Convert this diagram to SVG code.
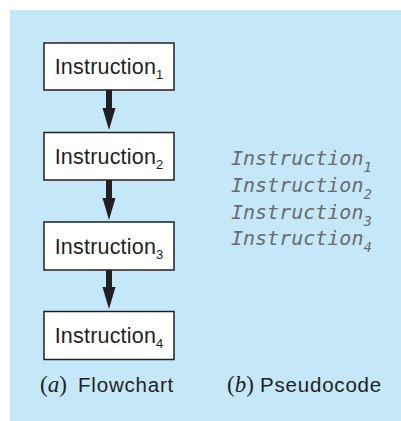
<svg xmlns="http://www.w3.org/2000/svg" width="401" height="421" viewBox="0 0 401 421">
  <style>
    .box { fill: #ffffff; stroke: #231f20; stroke-width: 1.5; }
    .lbl { font-family: "Liberation Sans", Arial, sans-serif; font-size: 21.5px; fill: #231f20; letter-spacing: 0.2px; }
    .sub { font-size: 13px; letter-spacing: 0; }
    .code { font-family: "DejaVu Sans Mono", "Liberation Mono", monospace; font-style: italic; font-size: 20px; fill: #6a6b6e; }
    .csub { font-size: 14px; }
    .cap { font-family: "Liberation Sans", Arial, sans-serif; font-size: 20.5px; fill: #231f20; letter-spacing: 0.8px; }
    .capm { font-family: "Liberation Serif", "Times New Roman", serif; font-size: 23px; letter-spacing: 0; }
    .conn { fill: #231f20; stroke: none; }
  </style>
  <rect x="10" y="10" width="391" height="411" fill="#c5e8f8"/>

  <g id="connectors">
    <path class="conn" d="M106,90 H112 V108 H115.5 L109,130 L102.5,108 H106 Z"/>
    <path class="conn" d="M106,180 H112 V198 H115.5 L109,220 L102.5,198 H106 Z"/>
    <path class="conn" d="M106,270 H112 V287 H115.5 L109,309 L102.5,287 H106 Z"/>
  </g>

  <g id="instruction1">
    <rect class="box" x="44" y="43" width="130" height="47"/>
    <text class="lbl" x="109" y="74" text-anchor="middle">Instruction<tspan class="sub" dy="5">1</tspan></text>
  </g>
  <g id="instruction2">
    <rect class="box" x="44" y="132.5" width="130" height="47.5"/>
    <text class="lbl" x="109" y="164" text-anchor="middle">Instruction<tspan class="sub" dy="5">2</tspan></text>
  </g>
  <g id="instruction3">
    <rect class="box" x="44" y="222" width="130" height="48"/>
    <text class="lbl" x="109" y="254" text-anchor="middle">Instruction<tspan class="sub" dy="5">3</tspan></text>
  </g>
  <g id="instruction4">
    <rect class="box" x="44" y="311.5" width="130" height="48"/>
    <text class="lbl" x="109" y="343" text-anchor="middle">Instruction<tspan class="sub" dy="5">4</tspan></text>
  </g>

  <g id="pseudocode">
    <text class="code" x="231" y="165">Instruction<tspan class="csub" dy="7">1</tspan></text>
    <text class="code" x="231" y="192">Instruction<tspan class="csub" dy="7">2</tspan></text>
    <text class="code" x="231" y="219">Instruction<tspan class="csub" dy="7">3</tspan></text>
    <text class="code" x="231" y="245">Instruction<tspan class="csub" dy="7">4</tspan></text>
  </g>

  <g id="captions">
    <text class="cap" y="392"><tspan class="capm" x="40">(<tspan font-style="italic">a</tspan>)</tspan><tspan x="78">Flowchart</tspan></text>
    <text class="cap" y="392"><tspan class="capm" x="227">(<tspan font-style="italic">b</tspan>)</tspan><tspan x="260">Pseudocode</tspan></text>
  </g>
</svg>
